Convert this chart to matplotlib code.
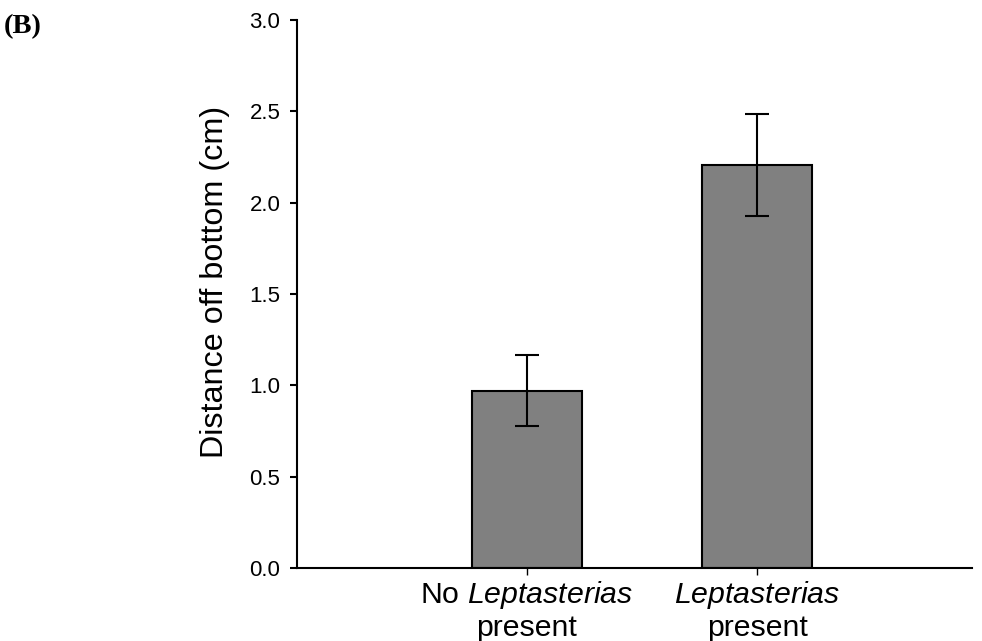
import matplotlib.pyplot as plt
import numpy as np

plt.rcParams["font.family"] = "Liberation Sans"
plt.rcParams["mathtext.fontset"] = "custom"
plt.rcParams["mathtext.rm"] = "Liberation Sans"
plt.rcParams["mathtext.it"] = "Liberation Sans:italic"

groups = ["No $\\mathit{Leptasterias}$\npresent", "$\\mathit{Leptasterias}$\npresent"]
mean_distance = [0.972, 2.205]
se_distance = [0.195, 0.28]
yticks = [0.0, 0.5, 1.0, 1.5, 2.0, 2.5, 3.0]

fig = plt.figure(figsize=(9.82, 6.41), dpi=100)
ax = fig.add_axes([0.3024, 0.1135, 0.6876, 0.8553])

x = np.arange(len(groups))
ax.bar(x, mean_distance, width=0.48, color="#808080", edgecolor="black", linewidth=1.5)
ax.errorbar(x, mean_distance, yerr=se_distance, fmt="none", ecolor="black",
            elinewidth=1.5, capsize=8.5, capthick=1.5)

ax.set_xlim(-1.0, 1.935)
ax.set_ylim(0, 3.0)
ax.set_yticks(yticks, [f"{t:.1f}" for t in yticks])
ax.set_xticks(x, groups)
ax.spines[["top", "right"]].set_visible(False)
for side in ("left", "bottom"):
    ax.spines[side].set_linewidth(1.5)
ax.tick_params(axis="y", direction="out", length=5, width=1.5, labelsize=16, pad=7)
ax.tick_params(axis="x", direction="out", length=5, width=1, labelsize=21.8, pad=3)
for lbl in ax.get_xticklabels():
    lbl.set_linespacing(1.1)
ax.set_ylabel("Distance off bottom (cm)", fontsize=23.3)
ax.yaxis.set_label_coords(-0.099, 0.523)

fig.text(0.004, 0.978, "(B)", family="Liberation Serif", weight="bold",
         fontsize=20.5, va="top", ha="left")

fig.savefig("out.png", dpi=100, facecolor="white")
